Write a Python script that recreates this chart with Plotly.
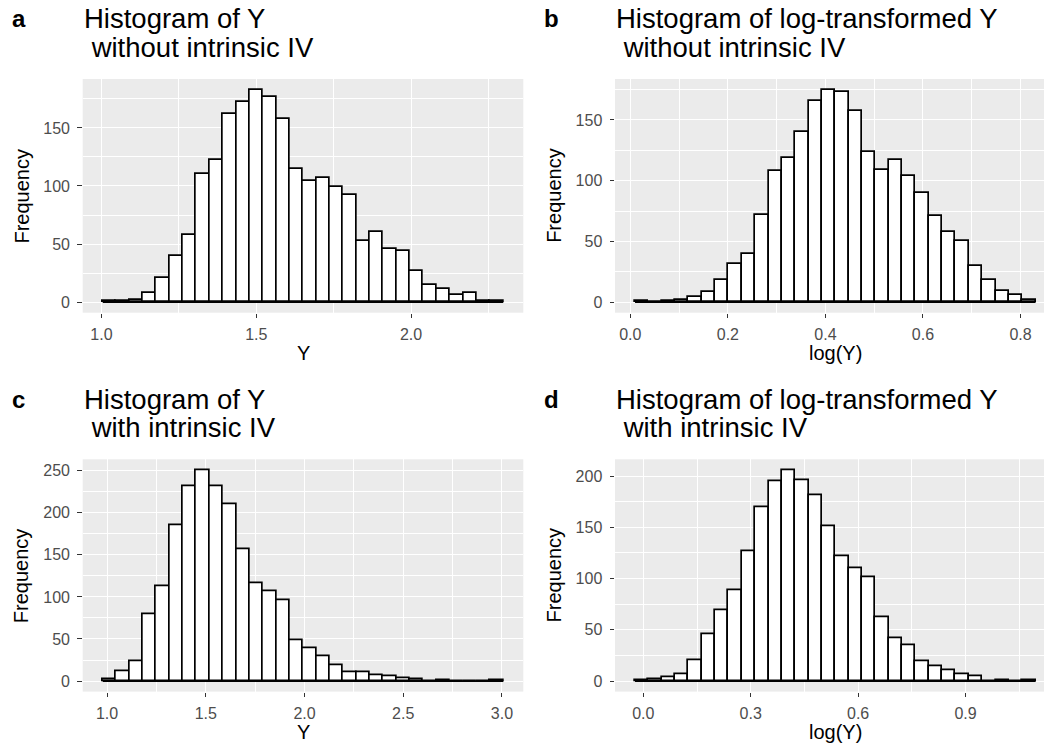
import numpy as np
import plotly.graph_objects as go

W, H = 1044, 751

# ---------------- data ----------------
a_counts = [1, 1, 2, 8, 21, 40, 58, 110, 122, 162, 172, 183, 177, 158, 115,
            104, 107, 99, 92, 53, 60, 46, 44, 27, 15, 11, 6, 8, 1, 1]
a_bin_range = [1.004, 2.298]

b_counts = [1, 0, 1, 2, 4, 8, 18, 31, 40, 72, 108, 119, 140, 166, 175,
            173, 157, 124, 109, 117, 104, 90, 71, 58, 50, 30, 18, 9, 6, 2]
b_bin_range = [0.0096, 0.8309]

c_counts = [2, 11, 24, 79, 113, 185, 231, 251, 231, 210, 156, 116, 107, 96, 48,
            39, 30, 19, 10, 10, 7, 6, 3, 2, 0, 1, 0, 0, 0, 1]
c_bin_range = [0.978, 3.0066]

d_counts = [1, 2, 4, 7, 20, 46, 69, 89, 127, 169, 195, 206, 196, 181, 151,
            122, 110, 101, 62, 42, 35, 19, 14, 10, 7, 5, 0, 1, 0, 1]
d_bin_range = [-0.0231, 1.0957]

a_xticks = [1.0, 1.5, 2.0]
a_xminor = [1.25, 1.75, 2.25]
b_xticks = [0.0, 0.2, 0.4, 0.6, 0.8]
b_xminor = [0.1, 0.3, 0.5, 0.7]
c_xticks = [1.0, 1.5, 2.0, 2.5, 3.0]
c_xminor = [1.25, 1.75, 2.25, 2.75]
d_xticks = [0.0, 0.3, 0.6, 0.9]
d_xminor = [0.15, 0.45, 0.75, 1.05]

a_yticks = [0, 50, 100, 150]
a_yminor = [25, 75, 125, 175]
b_yticks = [0, 50, 100, 150]
b_yminor = [25, 75, 125, 175]
c_yticks = [0, 50, 100, 150, 200, 250]
c_yminor = [25, 75, 125, 175, 225]
d_yticks = [0, 50, 100, 150, 200]
d_yminor = [25, 75, 125, 175]

tags = ["a", "b", "c", "d"]
titles_line1 = ["Histogram of Y", "Histogram of log-transformed Y",
                "Histogram of Y", "Histogram of log-transformed Y"]
titles_line2 = ["without intrinsic IV", "without intrinsic IV",
                "with intrinsic IV", "with intrinsic IV"]
xtitles = ["Y", "log(Y)", "Y", "log(Y)"]
ytitle = "Frequency"

# ---------------- layout geometry (pixels) ----------------
panel_w = 440.6
panels = [
    dict(counts=a_counts, rng=a_bin_range, xt=a_xticks, xm=a_xminor, yt=a_yticks, ym=a_yminor,
         left=82.7, top=79.0, bottom=312.7),
    dict(counts=b_counts, rng=b_bin_range, xt=b_xticks, xm=b_xminor, yt=b_yticks, ym=b_yminor,
         left=615.0, top=79.0, bottom=312.7),
    dict(counts=c_counts, rng=c_bin_range, xt=c_xticks, xm=c_xminor, yt=c_yticks, ym=c_yminor,
         left=82.7, top=459.3, bottom=691.6),
    dict(counts=d_counts, rng=d_bin_range, xt=d_xticks, xm=d_xminor, yt=d_yticks, ym=d_yminor,
         left=615.0, top=459.3, bottom=691.6),
]

fig = go.Figure()
FONT = "Liberation Sans, Arial, Helvetica, sans-serif"
TITLE_SIZE = 27.5
layout_axes = {}
annotations = []

for i, p in enumerate(panels):
    n = len(p["counts"])
    edges = np.linspace(p["rng"][0], p["rng"][1], n + 1)
    centers = (edges[:-1] + edges[1:]) / 2
    bw = edges[1] - edges[0]
    xa = "x" if i == 0 else f"x{i+1}"
    ya = "y" if i == 0 else f"y{i+1}"

    fig.add_trace(go.Bar(
        x=centers, y=p["counts"], width=bw, xaxis=xa, yaxis=ya,
        marker=dict(color="white", line=dict(color="black", width=1.7)),
        showlegend=False, hoverinfo="x+y"))
    # flat outline for empty bins (ggplot draws zero-height rectangles)
    fig.add_trace(go.Scatter(
        x=[edges[0], edges[-1]], y=[0, 0], xaxis=xa, yaxis=ya, mode="lines",
        line=dict(color="black", width=1.7), showlegend=False, hoverinfo="skip"))

    # scale with ggplot's 5% expansion
    span = edges[-1] - edges[0]
    r0 = edges[0] - 0.05 * span
    r1 = edges[-1] + 0.05 * span
    ppu = panel_w / (r1 - r0)
    right_px = min(p["left"] + panel_w, W)
    r1_vis = r0 + (right_px - p["left"]) / ppu

    ymax = max(p["counts"])
    y0 = -0.05 * ymax
    y1 = 1.05 * ymax

    xdom = [p["left"] / W, right_px / W]
    ydom = [1 - p["bottom"] / H, 1 - p["top"] / H]

    common = dict(
        showline=False, zeroline=False, ticks="outside", ticklen=4.5, tickwidth=1.3,
        tickcolor="#333333", tickfont=dict(size=16, color="#4D4D4D", family=FONT),
        showgrid=True, gridcolor="white", gridwidth=1.4, fixedrange=True,
    )
    layout_axes["xaxis" if i == 0 else f"xaxis{i+1}"] = dict(
        common, domain=xdom, range=[r0, r1_vis], anchor=ya,
        tickmode="array", tickvals=p["xt"], ticktext=[f"{v:.1f}" for v in p["xt"]],
        minor=dict(tickmode="array", tickvals=p["xm"], showgrid=True,
                   gridcolor="white", gridwidth=0.7, ticks=""),
        ticklabelstandoff=3,
    )
    layout_axes["yaxis" if i == 0 else f"yaxis{i+1}"] = dict(
        common, domain=ydom, range=[y0, y1], anchor=xa,
        tickmode="array", tickvals=p["yt"], ticktext=[str(v) for v in p["yt"]],
        minor=dict(tickmode="array", tickvals=p["ym"], showgrid=True,
                   gridcolor="white", gridwidth=0.7, ticks=""),
        ticklabelstandoff=4,
    )

    # titles
    top = p["top"]
    annotations.append(dict(
        text="<b>" + tags[i] + "</b>", xref="paper", yref="paper",
        x=(p["left"] - 73) / W, y=1 - (top - 60) / H, xanchor="left", yanchor="middle",
        showarrow=False, font=dict(size=24, color="black", family=FONT)))
    annotations.append(dict(
        text=titles_line1[i], xref="paper", yref="paper",
        x=(p["left"] - 1) / W, y=1 - (top - 60) / H, xanchor="left", yanchor="middle",
        showarrow=False, font=dict(size=TITLE_SIZE, color="black", family=FONT)))
    annotations.append(dict(
        text="\u00a0" + titles_line2[i], xref="paper", yref="paper",
        x=(p["left"] - 1) / W, y=1 - (top - 32) / H, xanchor="left", yanchor="middle",
        showarrow=False, font=dict(size=TITLE_SIZE, color="black", family=FONT)))
    # axis titles
    annotations.append(dict(
        text=xtitles[i], xref="paper", yref="paper",
        x=(p["left"] + panel_w / 2) / W, y=1 - (p["bottom"] + 40) / H,
        xanchor="center", yanchor="middle", showarrow=False,
        font=dict(size=20, color="black", family=FONT)))
    annotations.append(dict(
        text=ytitle, xref="paper", yref="paper", textangle=-90,
        x=(p["left"] - 61) / W, y=1 - ((p["top"] + p["bottom"]) / 2) / H,
        xanchor="center", yanchor="middle", showarrow=False,
        font=dict(size=20, color="black", family=FONT)))

fig.update_layout(
    width=W, height=H, margin=dict(l=0, r=0, t=0, b=0),
    paper_bgcolor="white", plot_bgcolor="#EBEBEB",
    bargap=0, barmode="overlay",
    font=dict(family=FONT, color="black"),
    annotations=annotations,
    **layout_axes,
)

fig.write_html("out.html", config={"displayModeBar": False},
               post_script="document.body.style.margin='0';document.body.style.overflow='hidden';")
